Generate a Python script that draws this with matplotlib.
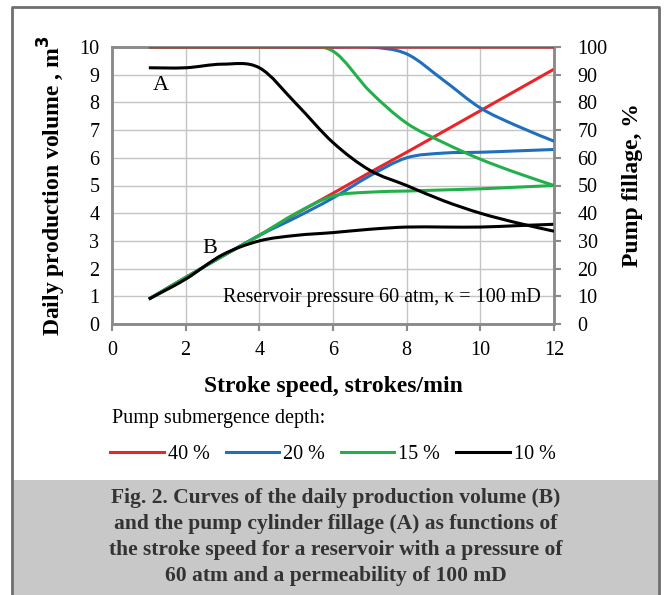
import numpy as np
import matplotlib
matplotlib.use('Agg')
import matplotlib.pyplot as plt
from matplotlib.path import Path
from matplotlib.patches import PathPatch, Rectangle
from matplotlib.lines import Line2D

# stroke speed, strokes/min
speed = [1, 2, 3, 4, 5, 6, 7, 8, 9, 10, 11, 12]

# B - daily production volume, m3
vol_40 = [0.9, 1.68, 2.45, 3.2, 3.98, 4.72, 5.47, 6.2, 6.95, 7.7, 8.45, 9.2]
vol_20 = [0.9, 1.68, 2.45, 3.2, 3.85, 4.55, 5.35, 6.0, 6.17, 6.2, 6.25, 6.3]
vol_15 = [0.9, 1.68, 2.45, 3.2, 4.0, 4.62, 4.76, 4.8, 4.84, 4.88, 4.94, 5.0]
vol_10 = [0.9, 1.62, 2.5, 3.0, 3.2, 3.3, 3.42, 3.5, 3.5, 3.5, 3.55, 3.6]

# A - pump fillage, %
fill_40 = [100, 100, 100, 100, 100, 100, 100, 100, 100, 100, 100, 100]
fill_20 = [100, 100, 100, 100, 100, 100, 100, 97.5, 88, 78, 71.5, 66]
fill_15 = [100, 100, 100, 100, 100, 98.5, 84, 72.5, 65.5, 59.5, 54.5, 50]
fill_10 = [92.5, 92.5, 93.8, 92.5, 79.5, 65.5, 55.5, 50, 44.5, 40, 36.5, 33.5]

labels = ['40 %', '20 %', '15 %', '10 %']
colors = ['#e8252b', '#1f6fbf', '#22b04b', '#000000']


def smooth_line(ax, xs, ys, color, z):
    """Excel-style smoothed line (Catmull-Rom as Bezier)"""
    p = np.column_stack([xs, ys]).astype(float)
    verts = [p[0]]
    codes = [Path.MOVETO]
    n = len(p)
    for i in range(n - 1):
        p0 = p[i - 1] if i > 0 else p[i]
        p1, p2 = p[i], p[i + 1]
        p3 = p[i + 2] if i + 2 < n else p[i + 1]
        verts += [p1 + (p2 - p0) / 6, p2 - (p3 - p1) / 6, p2]
        codes += [Path.CURVE4] * 3
    ax.add_patch(PathPatch(Path(verts, codes), fill=False, edgecolor=color,
                           lw=2.2, zorder=z, capstyle='butt'))


plt.rcParams['font.family'] = ['Liberation Serif', 'DejaVu Serif']

fig = plt.figure(figsize=(6.67, 5.95), dpi=100)

# frame and caption box
fig.add_artist(Rectangle((12 / 667, 0), 647 / 667, 115 / 595, transform=fig.transFigure,
                         facecolor='#c8c8c9', edgecolor='none', zorder=0))
fig.add_artist(Line2D([12 / 667, 12 / 667, 659 / 667, 659 / 667], [0, 1 - 7 / 595, 1 - 7 / 595, 0],
                      transform=fig.transFigure, color='#6f6f6f', lw=2))

ax = fig.add_axes([112 / 667, 1 - 324 / 595, 442 / 667, 277 / 595])
ax2 = ax.twinx()

ax.set_xlim(0, 12)
ax.set_ylim(0, 10)
ax2.set_ylim(0, 100)
ax.set_xticks(range(0, 13, 2))
ax.set_yticks(range(0, 11))
ax2.set_yticks(range(0, 101, 10))
ax.grid(True, color='#c4c4c4', lw=1)
ax.set_axisbelow(True)

for a in (ax, ax2):
    for s in a.spines.values():
        s.set_color('#8a8a8a')
        s.set_linewidth(1.8)
ax.tick_params(axis='x', length=5, color='#8a8a8a', width=1.5, labelsize=14.5, pad=7)
ax.tick_params(axis='y', length=0, labelsize=14.5, pad=9)
ax2.tick_params(axis='y', length=5, color='#8a8a8a', width=1.5, labelsize=14.5, pad=12)

vols = [vol_40, vol_20, vol_15, vol_10]
fills = [fill_40, fill_20, fill_15, fill_10]
for i in range(4):
    smooth_line(ax, speed, vols[i], colors[i], 3)
for i in [1, 2, 3, 0]:
    smooth_line(ax2, speed, fills[i], colors[i], 3)

ax.text(1.1, 8.45, 'A', fontsize=16)
ax.text(2.45, 2.55, 'B', fontsize=16)
ax.text(11.65, 0.78, 'Reservoir pressure 60 atm, \u03ba = 100 mD', fontsize=14.5, ha='right')

ax.set_ylabel('Daily production volume , m$^\\mathbf{3}$', fontsize=17, fontweight='bold', labelpad=8)
ax2.set_ylabel('Pump fillage, %', fontsize=17, fontweight='bold', labelpad=10)
ax.set_xlabel('Stroke speed, strokes/min', fontsize=17, fontweight='bold', labelpad=12)

# legend
fig.text(112 / 667, 1 - 418 / 595, 'Pump submergence depth:', fontsize=14.5, va='center')
handles = [Line2D([], [], color=c, lw=2.2) for c in colors]
fig.legend(handles, labels, loc='center', bbox_to_anchor=(333 / 667, 1 - 454 / 595), ncol=4,
           frameon=False, fontsize=14.5, handlelength=2.65, handletextpad=0.2, columnspacing=0.8)

caption = ('Fig. 2. Curves of the daily production volume (B)\n'
           'and the pump cylinder fillage (A) as functions of\n'
           'the stroke speed for a reservoir with a pressure of\n'
           '60 atm and a permeability of 100 mD')
fig.text(336 / 667, 1 - 537 / 595, caption, ha='center', va='center', fontsize=15.5,
         fontweight='bold', color='#333333', linespacing=1.4)

plt.savefig('out.png', dpi=100)
